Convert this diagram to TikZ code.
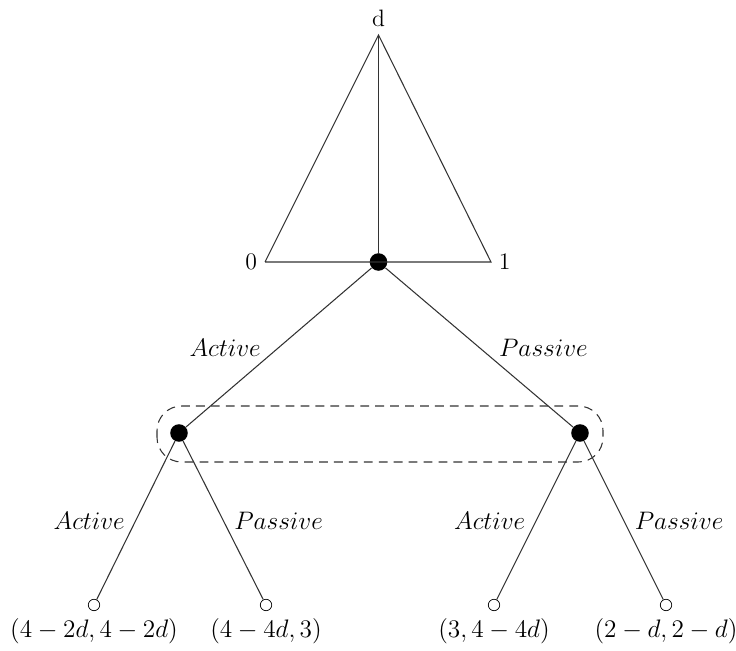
\documentclass[tikz,border=0pt]{standalone}
\usepackage{amsmath}
\usepackage{tikz}
\usetikzlibrary{positioning}

\tikzset{
  decision/.style={circle, fill=black, inner sep=0pt, minimum size=10pt},
  terminal/.style={circle, draw, fill=white, inner sep=0pt, minimum size=6.5pt},
  branch/.style={line width=0.6pt, black!80},
  payoff/.style={inner sep=2pt},
  move/.style={inner sep=2pt, text=black}
}

\begin{document}
\begin{tikzpicture}[font=\fontsize{13.5}{16}\selectfont]
  \useasboundingbox (0,0) rectangle (14.72,13.02);
  \coordinate (apex) at (7.57,12.32);
  \coordinate (zero) at (5.30,7.78);
  \coordinate (one) at (9.82,7.78);
  \node[decision] (root) at (7.57,7.78) {};
  \node[above=1pt of apex] (dlab) {d};
  \node[left=1pt of zero] (zlab) {0};
  \node[right=1pt of one] (olab) {1};
  \draw[branch] (zero) -- (apex) -- (one) -- (zero);
  \draw[branch] (apex) -- (root);

  \node[decision] (pa) at (3.58,4.36) {};
  \node[decision] (pp) at (11.60,4.36) {};
  \draw[branch, dash pattern=on 5pt off 3.5pt, rounded corners=14pt]
    (3.14,3.78) rectangle (12.06,4.90);

  \draw[branch] (root) -- (pa) node[move, midway, left, xshift=-8pt] {$Active$};
  \draw[branch] (root) -- (pp) node[move, midway, right, xshift=9pt] {$Passive$};

  \node[terminal] (aa) at (1.88,0.92) {};
  \node[terminal] (ap) at (5.32,0.92) {};
  \node[terminal] (pa2) at (9.88,0.92) {};
  \node[terminal] (pp2) at (13.32,0.92) {};

  \draw[branch] (pa) -- (aa) node[move, midway, left, xshift=-4pt] {$Active$};
  \draw[branch] (pa) -- (ap) node[move, midway, right, xshift=4pt] {$Passive$};
  \draw[branch] (pp) -- (pa2) node[move, midway, left, xshift=-4pt] {$Active$};
  \draw[branch] (pp) -- (pp2) node[move, midway, right, xshift=4pt] {$Passive$};

  \node[payoff, below=2pt of aa] (uaa) {$(4-2d,4-2d)$};
  \node[payoff, below=2pt of ap] (uap) {$(4-4d,3)$};
  \node[payoff, below=2pt of pa2] (upa) {$(3,4-4d)$};
  \node[payoff, below=2pt of pp2] (upp) {$(2-d,2-d)$};
\end{tikzpicture}
\end{document}
